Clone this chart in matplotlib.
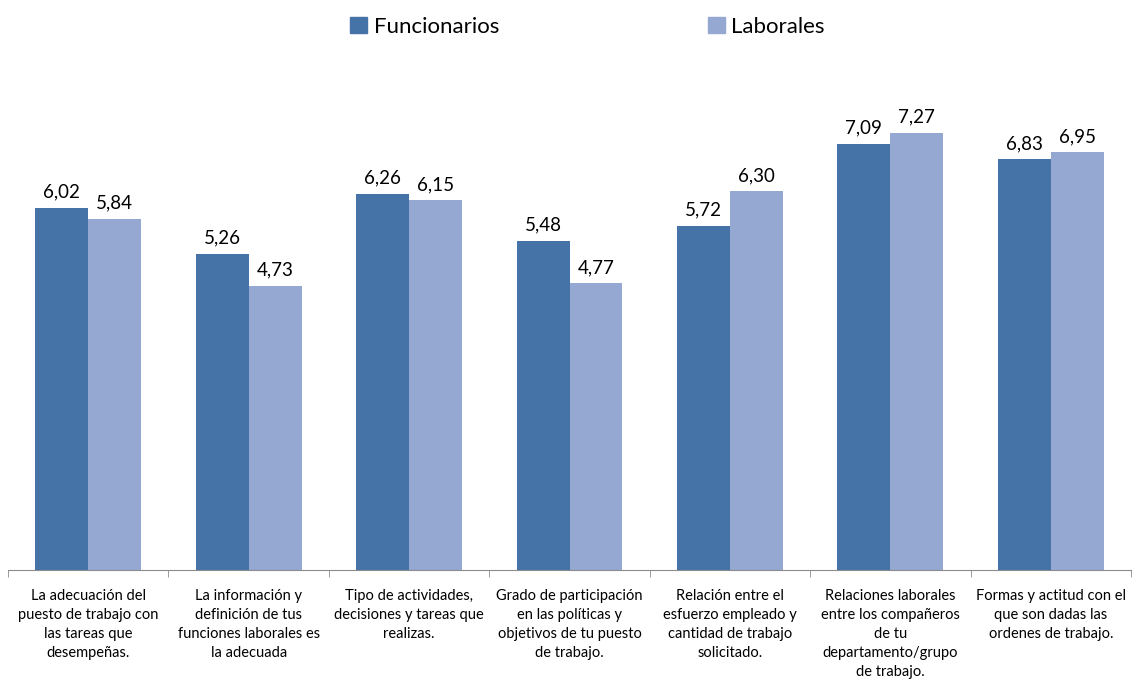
import numpy as np
import matplotlib.pyplot as plt
from matplotlib.patches import Patch

categorias = [
    "La adecuación del\npuesto de trabajo con\nlas tareas que\ndesempeñas.",
    "La información y\ndefinición de tus\nfunciones laborales es\nla adecuada",
    "Tipo de actividades,\ndecisiones y tareas que\nrealizas.",
    "Grado de participación\nen las políticas y\nobjetivos de tu puesto\nde trabajo.",
    "Relación entre el\nesfuerzo empleado y\ncantidad de trabajo\nsolicitado.",
    "Relaciones laborales\nentre los compañeros\nde tu\ndepartamento/grupo\nde trabajo.",
    "Formas y actitud con el\nque son dadas las\nordenes de trabajo.",
]
funcionarios = [6.02, 5.26, 6.26, 5.48, 5.72, 7.09, 6.83]
laborales = [5.84, 4.73, 6.15, 4.77, 6.30, 7.27, 6.95]

c_func = "#4572A7"
c_lab = "#94A8D1"

plt.rcParams['font.family'] = ['Lato', 'DejaVu Sans']

fig = plt.figure(figsize=(11.32, 6.82), dpi=100)
ax = fig.add_axes([8 / 1132, 112 / 682, 1123 / 1132, 481 / 682])

x = np.arange(len(categorias))
w = 0.33
b1 = ax.bar(x - w / 2, funcionarios, w, color=c_func)
b2 = ax.bar(x + w / 2, laborales, w, color=c_lab)

for bars, vals in ((b1, funcionarios), (b2, laborales)):
    for r, v in zip(bars, vals):
        ax.text(r.get_x() + r.get_width() / 2, v + 0.12, f"{v:.2f}".replace(".", ","),
                ha="center", va="bottom", fontsize=13.5)

ax.set_xlim(-0.5, len(categorias) - 0.5)
ax.set_ylim(0, 8)
ax.set_yticks([])
for s in ("top", "right", "left"):
    ax.spines[s].set_visible(False)
ax.spines["bottom"].set_color("#8c8c8c")

ax.set_xticks(x)
ax.set_xticklabels(categorias, fontsize=10.5, linespacing=1.45)
ax.tick_params(axis="x", which="major", length=0, pad=14)
ax.set_xticks(np.arange(len(categorias) + 1) - 0.5, minor=True)
ax.tick_params(axis="x", which="minor", length=5, color="#8c8c8c")

handles = [Patch(color=c_func), Patch(color=c_lab)]
fig.legend(handles, ["Funcionarios", "Laborales"], loc="upper center",
           bbox_to_anchor=(0.519, 1.005), ncol=2, frameon=False, fontsize=16,
           handlelength=0.75, handleheight=0.75, handletextpad=0.3,
           columnspacing=9.4)

fig.savefig("out.png", dpi=100)
